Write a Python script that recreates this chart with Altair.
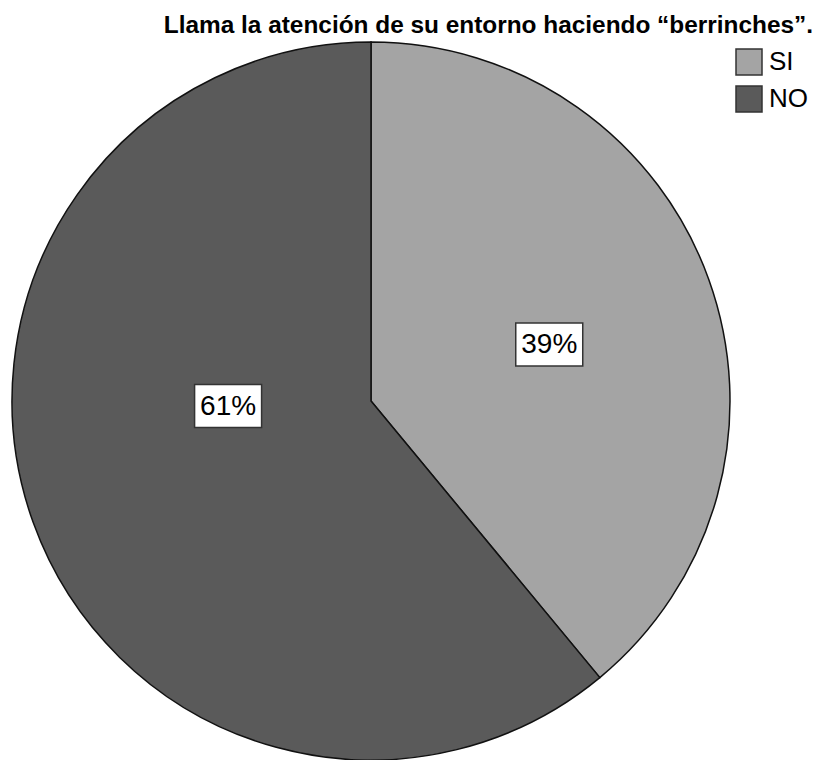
import altair as alt
import pandas as pd

# ---- data ----
categories = ["SI", "NO"]
values = [39, 61]
order = [1, 2]
colors = ["#a4a4a4", "#5a5a5a"]

# ---- layout (group coordinates) ----
W, H = 806, 712
CX, CY, R = 363, 353, 359
LABEL_ANGLE_SHIFT = {"SI": 2.2, "NO": 17.8}   # degrees added to slice mid-angle
LABEL_RADIUS = {"SI": 187, "NO": 143}
BOX_W, BOX_H = 67, 43

df = pd.DataFrame({"cat": categories, "value": values, "ord": order})

base = alt.Chart(df)

pie = base.mark_arc(outerRadius=R, stroke="#111111", strokeWidth=1.5).encode(
    theta=alt.Theta("value:Q", stack=True),
    order=alt.Order("ord:Q"),
    color=alt.Color(
        "cat:N",
        scale=alt.Scale(domain=categories, range=colors),
        sort=categories,
        legend=alt.Legend(
            title=None,
            orient="none",
            legendX=727,
            legendY=0,
            symbolType="square",
            symbolSize=676,
            symbolStrokeColor="#333333",
            symbolStrokeWidth=1.5,
            symbolOpacity=1,
            labelFontSize=26,
            labelFont="Liberation Sans",
            labelColor="#000000",
            labelOffset=6,
            rowPadding=5,
            padding=0,
        ),
    ),
    x=alt.value(CX),
    y=alt.value(CY),
)

shift_expr = "datum.cat == 'SI' ? {} : {}".format(LABEL_ANGLE_SHIFT["SI"], LABEL_ANGLE_SHIFT["NO"])
rad_expr = "datum.cat == 'SI' ? {} : {}".format(LABEL_RADIUS["SI"], LABEL_RADIUS["NO"])

labels_base = base.transform_window(
    cum="sum(value)", sort=[alt.SortField("ord")]
).transform_joinaggregate(total="sum(value)").transform_calculate(
    mid="((datum.cum - datum.value / 2) / datum.total) * 360",
).transform_calculate(
    ang="(datum.mid + (" + shift_expr + ")) * PI / 180",
    rr=rad_expr,
).transform_calculate(
    lx=f"{CX} + datum.rr * sin(datum.ang)",
    ly=f"{CY} - datum.rr * cos(datum.ang)",
    pct="datum.value + '%'",
).transform_calculate(
    x1=f"datum.lx - {BOX_W / 2}",
    x2=f"datum.lx + {BOX_W / 2}",
    y1=f"datum.ly - {BOX_H / 2}",
    y2=f"datum.ly + {BOX_H / 2}",
)

boxes = labels_base.mark_rect(fill="white", stroke="#333333", strokeWidth=1.5).encode(
    x=alt.X("x1:Q", scale=None),
    x2="x2:Q",
    y=alt.Y("y1:Q", scale=None),
    y2="y2:Q",
)

texts = labels_base.mark_text(
    font="Liberation Sans", fontSize=28, color="black", baseline="middle", align="center", dy=1
).encode(
    x=alt.X("lx:Q", scale=None),
    y=alt.Y("ly:Q", scale=None),
    text="pct:N",
)

chart = alt.layer(pie, boxes, texts).properties(
    width=W,
    height=H,
    autosize=alt.AutoSizeParams(type="none"),
    padding={"top": 40, "left": 0, "right": 0, "bottom": 0},
    title=alt.Title(
        "Llama la atención de su entorno haciendo “berrinches”.",
        anchor="end",
        frame="group",
        font="Liberation Sans",
        fontSize=24.4,
        fontWeight="bold",
        color="black",
        offset=1,
        dx=-1,
    ),
).configure_view(stroke=None)

chart.save("out.html", embed_options={"renderer": "svg", "actions": False})
